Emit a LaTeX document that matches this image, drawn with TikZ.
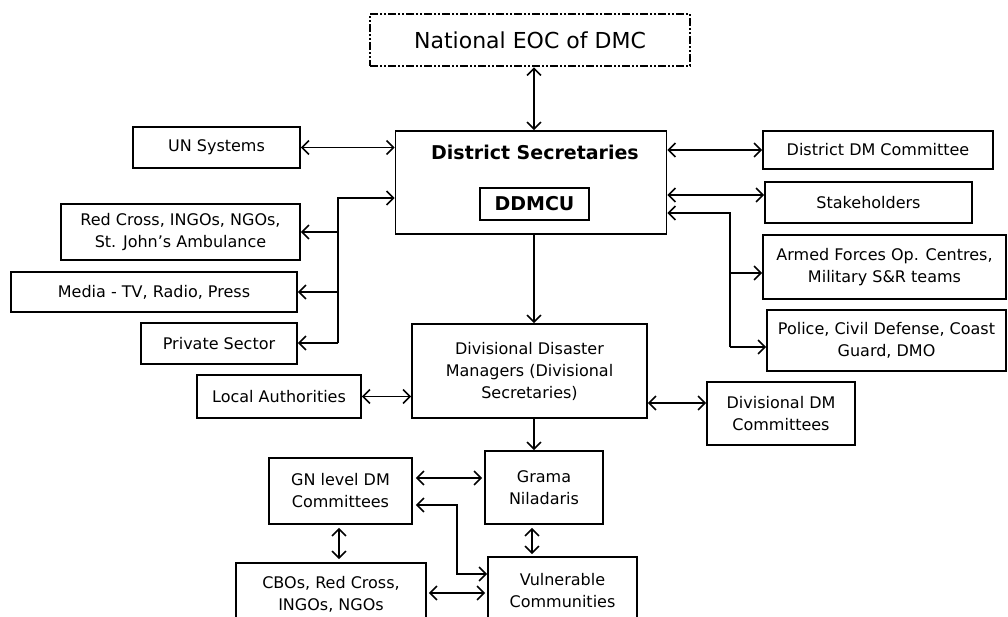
\documentclass[tikz,border=0pt]{standalone}
\usepackage{fontspec}
\setmainfont{DejaVu Sans}
\usetikzlibrary{arrows.meta}
\begin{document}
\begin{tikzpicture}[x=1pt,y=-1pt,
  >={Straight Barb[length=7pt,width=14pt,line width=1.6pt]},
  box/.style={draw,line width=1.6pt,inner sep=0pt,align=center,
    font=\fontsize{16}{22}\selectfont},
  dashbox/.style={draw,line width=2.6pt,inner sep=0pt,
    dash pattern=on 8pt off 2pt on 2pt off 2pt on 2pt off 2pt,
    font=\fontsize{22}{26}\selectfont},
  label/.style={inner sep=0pt,font=\bfseries\fontsize{19}{22}\selectfont},
  link/.style={line width=1.6pt}]
\useasboundingbox (0,0) rectangle (1008,616);
\clip (0,0) rectangle (1008,616);
\fill[white] (0,0) rectangle (1008,616);

% top level
\node[dashbox,minimum width=320pt,minimum height=52pt] (eoc) at (530,40) {National EOC of DMC};
\node[box,minimum width=271pt,minimum height=103pt] (ds) at (531,182.5) {};
\node[label] (dstitle) at (535,152) {District Secretaries};
\node[box,label,minimum width=109pt,minimum height=32pt] (ddmcu) at (534.5,204) {DDMCU};

% left partners
\node[box,minimum width=167pt,minimum height=41pt] (un) at (216.5,147.5) {UN Systems};
\node[box,minimum width=239pt,minimum height=56pt] (red) at (180.5,232) {Red Cross, INGOs, NGOs,\\St. John’s Ambulance};
\node[box,minimum width=286pt,minimum height=40pt] (media) at (154,292) {Media - TV, Radio, Press};
\node[box,minimum width=156pt,minimum height=41pt] (priv) at (219,343.5) {Private Sector};

% right partners
\node[box,minimum width=230pt,minimum height=38pt] (ddc) at (878,150) {District DM Committee};
\node[box,minimum width=207pt,minimum height=41pt] (stake) at (868.5,202.5) {Stakeholders};
\node[box,minimum width=243pt,minimum height=64pt] (armed) at (884.5,267) {Armed Forces Op. Centres,\\Military S\&R teams};
\node[box,minimum width=239pt,minimum height=61pt] (police) at (886.5,340.5) {Police, Civil Defense, Coast\\Guard, DMO};

% divisional level
\node[box,minimum width=235pt,minimum height=94pt] (ddm) at (529.5,371) {Divisional Disaster\\Managers (Divisional\\Secretaries)};
\node[box,minimum width=164pt,minimum height=43pt] (local) at (279,396.5) {Local Authorities};
\node[box,minimum width=148pt,minimum height=63pt] (divc) at (781,413.5) {Divisional DM\\Committees};

% village level
\node[box,minimum width=118pt,minimum height=73pt] (grama) at (544,487.5) {Grama\\Niladaris};
\node[box,minimum width=143pt,minimum height=66pt] (gn) at (340.5,491) {GN level DM\\Committees};
\node[box,minimum width=149pt,minimum height=68pt] (vuln) at (562.5,591) {Vulnerable\\Communities};
\node[box,minimum width=190pt,minimum height=62pt] (cbo) at (331,594) {CBOs, Red Cross,\\INGOs, NGOs};

% junction points
\coordinate (spine) at (534,0);
\coordinate (ltop) at (338,198);
\coordinate (lbot) at (338,343);
\coordinate (rtop) at (730,213);
\coordinate (rmid) at (730,273);
\coordinate (rbot) at (730,347);
\coordinate (stk) at (700,195);
\coordinate (dvc) at (700,403);
\coordinate (gng) at (450,478);
\coordinate (gv1) at (457,505);
\coordinate (gv2) at (457,574);
\coordinate (cv) at (450,593);
\coordinate (gs) at (532,0);
\coordinate (gc) at (339,0);

% vertical chain
\draw[link,<->] (eoc.south -| spine) -- (ds.north -| spine);
\draw[link,->] (ds.south -| spine) -- (ddm.north -| spine);
\draw[link,->] (ddm.south -| spine) -- (grama.north -| spine);

% district links
\draw[link,<->] (un.east) -- (un.east -| ds.west);
\draw[link,<->] (ds.east |- ddc.west) -- (ddc.west);
\draw[link,<->] (ds.east |- stk) -- (stake.west |- stk);
\draw[link,->] (lbot) -- (ltop) -- (ds.west |- ltop);
\draw[link,->] (ltop |- red.east) -- (red.east);
\draw[link,->] (ltop |- media.east) -- (media.east);
\draw[link,->] (lbot) -- (priv.east |- lbot);
\draw[link,->] (rbot) -- (rtop) -- (ds.east |- rtop);
\draw[link,->] (rmid) -- (armed.west |- rmid);
\draw[link,->] (rbot) -- (police.west |- rbot);

% divisional links
\draw[link,<->] (local.east) -- (local.east -| ddm.west);
\draw[link,<->] (ddm.east |- dvc) -- (divc.west |- dvc);

% village links
\draw[link,<->,shorten <=3pt,shorten >=2pt] (gn.east |- gng) -- (grama.west |- gng);
\draw[link,<->,shorten <=3pt] (gn.east |- gv1) -- (gv1) -- (gv2) -- (vuln.west |- gv2);
\draw[link,<->,shorten <=3pt,shorten >=3pt] (gn.south -| gc) -- (cbo.north -| gc);
\draw[link,<->,shorten <=3pt,shorten >=2pt] (grama.south -| gs) -- (vuln.north -| gs);
\draw[link,<->,shorten <=2pt,shorten >=2pt] (cbo.east |- cv) -- (vuln.west |- cv);
\end{tikzpicture}
\end{document}
